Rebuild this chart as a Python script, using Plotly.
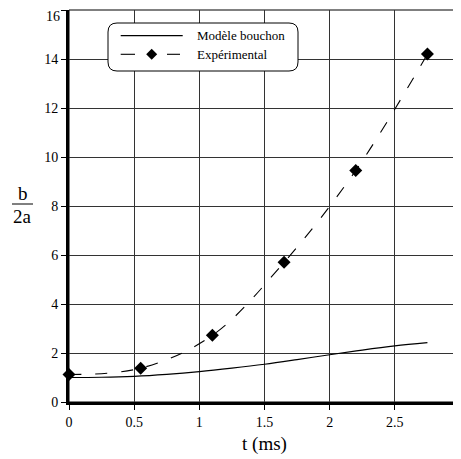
import plotly.graph_objects as go

# Experimental points
t_exp = [0, 0.55, 1.1, 1.65, 2.2, 2.75]
r_exp = [1.12, 1.38, 2.72, 5.7, 9.45, 14.2]

# Plug-flow model curve
t_model = [0, 0.25, 0.5, 0.75, 1.0, 1.25, 1.5, 1.75, 2.0, 2.25, 2.5, 2.75]
r_model = [1.0, 1.01, 1.05, 1.13, 1.24, 1.38, 1.54, 1.73, 1.93, 2.12, 2.29, 2.42]

x_ticks = [0, 0.5, 1, 1.5, 2, 2.5, 3]
x_labels = ["0", "0.5", "1", "1.5", "2", "2.5", "3"]
y_ticks = [0, 2, 4, 6, 8, 10, 12, 14, 16]
y_labels = ["0", "2", "4", "6", "8", "10", "12", "14", "16"]

legend_names = ["Modèle bouchon", "Expérimental"]

FONT = "Liberation Serif, serif"
OFF = 8  # page body margin of the exported html
W, H = 453, 451
L, R, T, B = 61, 1, 2, 57
PW, PH = W - L - R, H - T - B


def px(x):
    # screen pixel -> paper x
    return (x - OFF - L) / PW


def py(y):
    # screen pixel -> paper y
    return (OFF + H - B - y) / PH


fig = go.Figure()

fig.add_trace(go.Scatter(
    x=t_model, y=r_model, mode="lines", line=dict(color="black", width=1.2, shape="spline"),
    showlegend=False, hoverinfo="skip"
))
fig.add_trace(go.Scatter(
    x=t_exp, y=r_exp, mode="lines", line=dict(color="black", width=1.1, dash="12px,14px", shape="spline"),
    showlegend=False, hoverinfo="skip"
))
fig.add_trace(go.Scatter(
    x=t_exp, y=r_exp, mode="markers",
    marker=dict(symbol="diamond", size=10, color="black"),
    showlegend=False, cliponaxis=False
))

shapes = []
# thin frame
shapes.append(dict(type="rect", xref="paper", yref="paper", x0=0, y0=0, x1=1, y1=1,
                   line=dict(color="black", width=1), layer="below"))

# legend box with rounded corners
x0, x1 = px(108), px(298)
y0, y1 = py(71), py(23)
rx, ry = 9 / PW, 9 / PH
path = (f"M {x0+rx},{y1} L {x1-rx},{y1} Q {x1},{y1} {x1},{y1-ry} "
        f"L {x1},{y0+ry} Q {x1},{y0} {x1-rx},{y0} L {x0+rx},{y0} "
        f"Q {x0},{y0} {x0},{y0+ry} L {x0},{y1-ry} Q {x0},{y1} {x0+rx},{y1} Z")
shapes.append(dict(type="path", xref="paper", yref="paper", path=path,
                   fillcolor="white", line=dict(color="black", width=1)))

ly1, ly2 = py(35.7), py(54.3)
shapes.append(dict(type="line", xref="paper", yref="paper", x0=px(120.7), x1=px(182.7),
                   y0=ly1, y1=ly1, line=dict(color="black", width=1.2)))
shapes.append(dict(type="line", xref="paper", yref="paper", x0=px(120.7), x1=px(135),
                   y0=ly2, y1=ly2, line=dict(color="black", width=1.1)))
shapes.append(dict(type="line", xref="paper", yref="paper", x0=px(167), x1=px(180),
                   y0=ly2, y1=ly2, line=dict(color="black", width=1.1)))
dx, dy = 5.5 / PW, 5.5 / PH
cx = px(151.7)
shapes.append(dict(type="path", xref="paper", yref="paper",
                   path=f"M {cx-dx},{ly2} L {cx},{ly2+dy} L {cx+dx},{ly2} L {cx},{ly2-dy} Z",
                   fillcolor="black", line=dict(color="black", width=0)))

# fraction bar of the y title
shapes.append(dict(type="line", xref="paper", yref="paper", x0=px(12), x1=px(33),
                   y0=py(204), y1=py(204), line=dict(color="black", width=1)))

annotations = [
    dict(text=legend_names[0], x=px(195), y=ly1, xref="paper", yref="paper",
         xanchor="left", yanchor="middle", showarrow=False, font=dict(size=13, family=FONT, color="black")),
    dict(text=legend_names[1], x=px(195), y=ly2, xref="paper", yref="paper",
         xanchor="left", yanchor="middle", showarrow=False, font=dict(size=13, family=FONT, color="black")),
    dict(text="b", x=px(22.5), y=py(193), xref="paper", yref="paper",
         xanchor="center", yanchor="middle", showarrow=False, font=dict(size=19, family=FONT, color="black")),
    dict(text="2a", x=px(22.5), y=py(216), xref="paper", yref="paper",
         xanchor="center", yanchor="middle", showarrow=False, font=dict(size=19, family=FONT, color="black")),
    # top tick label, nudged so it is not clipped by the top of the figure
    dict(text=y_labels[-1], x=px(61), y=1 + T / PH, xref="paper", yref="paper",
         xanchor="right", yanchor="top", showarrow=False, borderpad=0,
         font=dict(size=14, family=FONT, color="black")),
]

fig.update_layout(
    width=W, height=H,
    margin=dict(l=L, r=R, t=T, b=B),
    plot_bgcolor="white", paper_bgcolor="white",
    font=dict(family=FONT, size=14, color="black"),
    shapes=shapes, annotations=annotations,
    showlegend=False,
)

fig.update_xaxes(
    range=[0, 3], tickvals=x_ticks, ticktext=x_labels,
    tickfont=dict(family=FONT, size=14, color="black"),
    ticklabeloverflow="allow", automargin=False,
    showgrid=True, gridcolor="#333", gridwidth=1,
    showline=True, linecolor="black", linewidth=3,
    ticks="outside", ticklen=5, tickcolor="black", tickwidth=1,
    zeroline=False,
    title=dict(text="t (ms)", font=dict(size=19, family=FONT), standoff=8),
)
fig.update_yaxes(
    range=[0, 16], tickvals=y_ticks, ticktext=y_labels[:-1] + [""],
    tickfont=dict(family=FONT, size=14, color="black"),
    ticklabeloverflow="allow", automargin=False,
    showgrid=True, gridcolor="#333", gridwidth=1,
    showline=True, linecolor="black", linewidth=3,
    ticks="outside", ticklen=5, tickcolor="black", tickwidth=1,
    zeroline=False,
)

fig.write_html("out.html")
